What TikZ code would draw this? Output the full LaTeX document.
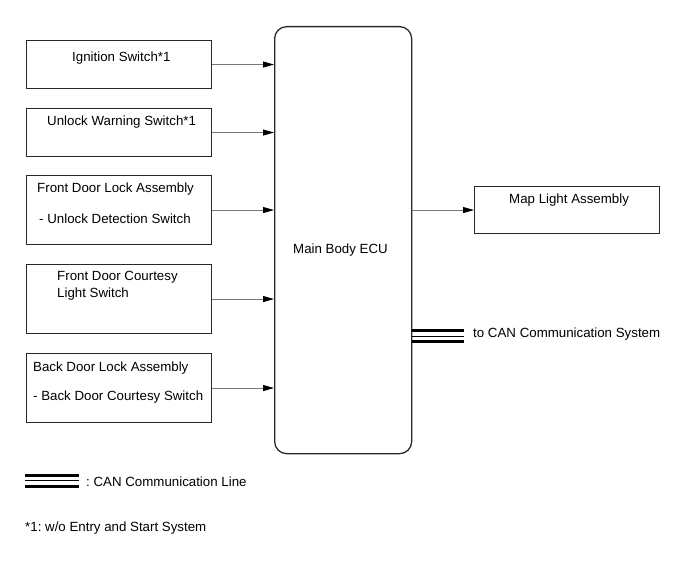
\documentclass[tikz,border=0pt]{standalone}
\usepackage{fontspec}
\setmainfont{Liberation Sans}
\usetikzlibrary{arrows.meta}
\definecolor{linegray}{RGB}{120,120,120}
\definecolor{boxgray}{RGB}{40,40,40}
\frenchspacing
\begin{document}
\begin{tikzpicture}[x=1pt,y=-1pt,
  every node/.style={font=\fontsize{13.3}{16}\selectfont},
  inbox/.style={draw=boxgray,line width=1.1pt,anchor=north west,minimum width=185pt,inner sep=0pt},
  lbl/.style={anchor=base west,inner sep=0pt},
  sig/.style={draw=linegray,line width=0.9pt,-{Triangle[length=11pt,width=6pt,fill=black,color=black]}},
  canthick/.style={line width=3pt,black},
  canthin/.style={line width=1pt,black}]
\useasboundingbox[fill=white] (0,0) rectangle (691,564);

% left boxes
\node[inbox,minimum height=48pt] (b1) at (26,40) {};
\node[inbox,minimum height=48pt] (b2) at (26,108) {};
\node[inbox,minimum height=69pt] (b3) at (26,175) {};
\node[inbox,minimum height=69pt] (b4) at (26,264) {};
\node[inbox,minimum height=69pt] (b5) at (26,353) {};

% ECU
\node[draw=boxgray,line width=1.3pt,rounded corners=12pt,anchor=north west,minimum width=137pt,minimum height=427pt,inner sep=0pt] (ecu) at (274,26) {};

% map light
\node[inbox,minimum height=47pt] (map) at (474,186) {};

% labels
\node[lbl] (t1) at (72,61.5) {Ignition Switch*1};
\node[lbl] (t2) at (47,126) {Unlock Warning Switch*1};
\node[lbl] (t3a) at (37,192.3) {Front Door Lock Assembly};
\node[lbl] (t3b) at (39,224) {- Unlock Detection Switch};
\node[lbl] (t4a) at (57,280.7) {Front Door Courtesy};
\node[lbl] (t4b) at (57,297.3) {Light Switch};
\node[lbl] (t5a) at (33,371.7) {Back Door Lock Assembly};
\node[lbl] (t5b) at (33,400) {- Back Door Courtesy Switch};
\node[lbl] (tmap) at (509,203.3) {Map Light Assembly};
\node[lbl] (tecu) at (293,254) {Main Body ECU};
\node[lbl] (tcan) at (473,337) {to CAN Communication System};
\node[lbl] (tleg) at (86,486) {: CAN Communication Line};
\node[lbl] (tnote) at (25,531) {*1: w/o Entry and Start System};

% signal arrows
\draw[sig] (b1.east) -- (b1.east -| ecu.west);
\draw[sig] (b2.east) -- (b2.east -| ecu.west);
\draw[sig] (b3.east) -- (b3.east -| ecu.west);
\draw[sig] (b4.east) -- (b4.east -| ecu.west);
\draw[sig] (b5.east) -- (b5.east -| ecu.west);
\draw[sig] (map.west -| ecu.east) -- (map.west);

% CAN lines from ECU
\coordinate (can) at (464,336);
\draw[canthick] ([yshift=6pt]can -| ecu.east) -- ([yshift=6pt]can);
\draw[canthin] (can -| ecu.east) -- (can);
\draw[canthick] ([yshift=-5.5pt]can -| ecu.east) -- ([yshift=-5.5pt]can);

% legend
\coordinate (lgA) at (25,480.5);
\coordinate (lgB) at (79,480.5);
\draw[canthick] ([yshift=5.5pt]lgA) -- ([yshift=5.5pt]lgB);
\draw[canthin] (lgA) -- (lgB);
\draw[canthick] ([yshift=-5.5pt]lgA) -- ([yshift=-5.5pt]lgB);
\end{tikzpicture}
\end{document}
